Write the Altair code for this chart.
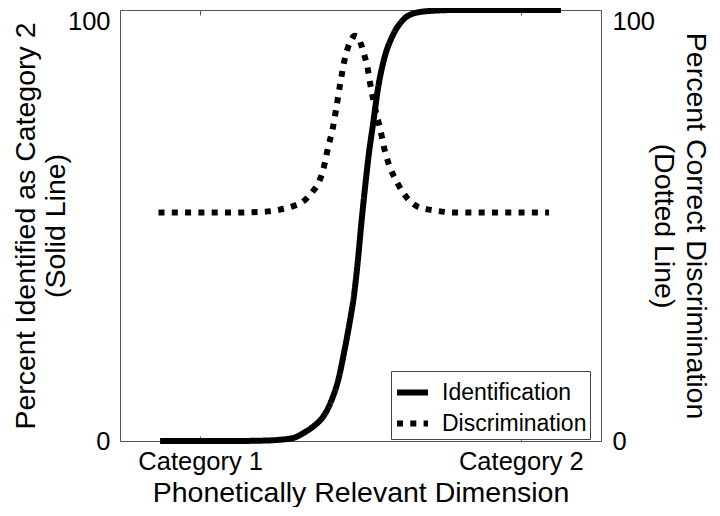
import altair as alt
import pandas as pd

# ---- data ----
series_names = ["Identification", "Discrimination"]

id_x = [-1.25, 0.0, 1.0, 2.0, 2.5, 2.9, 3.3, 3.6, 3.85, 4.1, 4.3, 4.5, 4.65, 4.8,
        4.92, 5.02, 5.13, 5.25, 5.4, 5.55, 5.75, 6.0, 6.3, 6.7, 7.2, 8.0, 9.5, 11.25]
id_y = [0, 0, 0, 0.1, 0.3, 0.7, 2.2, 3.8, 5.8, 9.5, 14, 21, 27, 34,
        42, 50, 58, 66, 74, 82, 89, 94, 97.5, 99.3, 99.8, 100, 100, 100]

disc_x = [-1.3, 0.0, 1.0, 2.0, 2.5, 2.9, 3.2, 3.5, 3.7, 3.85, 4.0, 4.12, 4.25, 4.37,
          4.52, 4.68, 4.82, 4.92, 5.02, 5.12, 5.21, 5.3, 5.46, 5.61, 5.77, 5.92,
          6.14, 6.45, 6.8, 7.3, 8.0, 9.0, 10.88]
disc_y = [53, 53, 53, 53.2, 53.7, 54.5, 55.5, 57.8, 60, 63.3, 68.5, 72, 77.5, 83,
          89, 92.6, 94, 93.8, 92, 89.5, 87, 83, 77, 72.5, 67, 63.5,
          60, 56.4, 54.3, 53.5, 53, 53, 53]

x_tick_values = [0, 10]
x_tick_labels = ["Category 1", "Category 2"]
y_tick_values = [0, 100]

df_id = pd.DataFrame({"x": id_x, "y": id_y, "series": series_names[0]})
df_disc = pd.DataFrame({"x": disc_x, "y": disc_y, "series": series_names[1]})

FONT = "Liberation Sans"
GRAY = "#555555"
TITLE_SIZE = 28.5
LABEL_SIZE = 25.5

xscale = alt.Scale(domain=[-2.5, 12.5], nice=False, zero=False)
yscale = alt.Scale(domain=[0, 100], nice=False)

label_expr = "datum.value == {} ? '{}' : '{}'".format(
    x_tick_values[0], x_tick_labels[0], x_tick_labels[1])

# push the top "100" label down so it stays inside the page
y_label_offset = {"condition": {"test": "datum.value == 100", "value": 11}, "value": 0}

dash = alt.StrokeDash(
    "series:N",
    scale=alt.Scale(domain=series_names, range=[[1, 0], [6, 7.3]]),
    legend=alt.Legend(
        title=None, orient="none", legendX=271, legendY=361,
        symbolType="stroke", symbolSize=961, symbolStrokeWidth=6,
        symbolStrokeColor="black", labelFontSize=23, labelFont=FONT,
        labelColor="black", labelOffset=11, padding=3, rowPadding=-4,
        strokeColor="#444444", fillColor="white", cornerRadius=0,
    ),
)

id_line = alt.Chart(df_id).mark_line(
    color="black", strokeWidth=6, strokeCap="butt", interpolate="monotone"
).encode(
    x=alt.X("x:Q", scale=xscale, axis=alt.Axis(
        orient="bottom", values=x_tick_values, labelExpr=label_expr,
        tickSize=5, offset=-5, labelPadding=8, domain=False, grid=False,
        tickColor=GRAY, labelFontSize=LABEL_SIZE,
        title="Phonetically Relevant Dimension", titleFontSize=TITLE_SIZE,
        titleFontWeight="normal", titleBaseline="alphabetic",
        titleAlign="center", titleX=240.5, titleY=65)),
    y=alt.Y("y:Q", scale=yscale, axis=alt.Axis(
        orient="left", values=y_tick_values, ticks=False, domain=False,
        grid=False, labelPadding=10, labelFontSize=LABEL_SIZE,
        labelOffset=y_label_offset,
        title=["Percent Identified as Category 2", "(Solid Line)"],
        titleFontSize=TITLE_SIZE, titleFontWeight="normal", titleAngle=270,
        titleBaseline="alphabetic", titleAlign="center",
        titleLineHeight=30, titleX=-86, titleY=215.5)),
    strokeDash=dash,
)

disc_line = alt.Chart(df_disc).mark_line(
    color="black", strokeWidth=6, strokeCap="butt", interpolate="monotone"
).encode(
    x=alt.X("x:Q", scale=xscale, axis=None),
    y=alt.Y("y:Q", scale=yscale, axis=alt.Axis(
        orient="right", values=y_tick_values, ticks=False, domain=False,
        grid=False, labelPadding=11, labelFontSize=LABEL_SIZE,
        labelOffset=y_label_offset,
        title=["Percent Correct Discrimination", "(Dotted Line)"],
        titleFontSize=TITLE_SIZE, titleFontWeight="normal", titleAngle=90,
        titleBaseline="alphabetic", titleAlign="center",
        titleLineHeight=32, titleX=85, titleY=215.5)),
    strokeDash=dash,
)

top_ticks = alt.Chart(df_disc).mark_line(opacity=0).encode(
    x=alt.X("x:Q", scale=xscale, title=None, axis=alt.Axis(
        orient="top", values=x_tick_values, labels=False, tickSize=5,
        offset=-5, domain=False, grid=False, tickColor=GRAY)),
    y=alt.Y("y:Q", scale=yscale, axis=None),
)

chart = alt.layer(id_line, disc_line, top_ticks).resolve_scale(
    x="independent", y="independent"
).properties(
    width=481, height=431,
    autosize=alt.AutoSizeParams(type="none"),
    padding={"left": 112, "top": 2, "right": 111, "bottom": 66},
).configure_view(
    stroke=GRAY, strokeWidth=1
).configure_axis(
    labelFont=FONT, titleFont=FONT, labelColor="black", titleColor="black"
)

chart.save("out.html", embed_options={"renderer": "svg", "actions": False})
